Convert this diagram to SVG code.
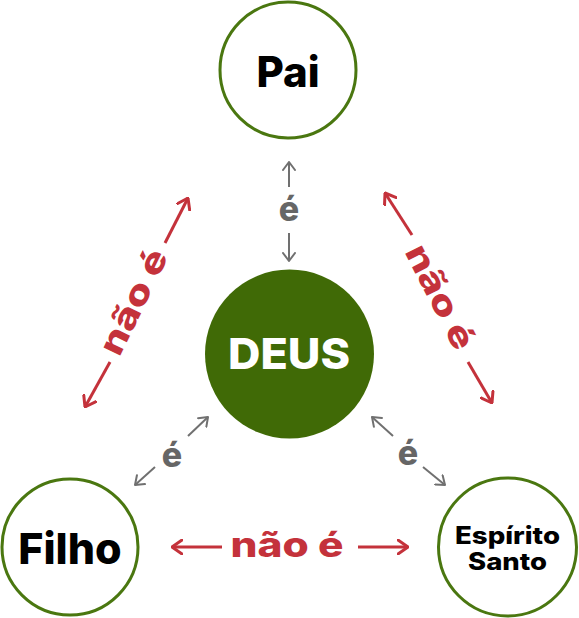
<svg xmlns="http://www.w3.org/2000/svg" width="579" height="618" viewBox="0 0 579 618">
<defs>
<style>
.ring{fill:#fff;stroke:#4a7710;stroke-width:3}
.lbl{font-family:Inter,"Open Sans","Liberation Sans",sans-serif;font-weight:800;text-anchor:middle}
.ne{fill:#c4323b;font-size:34px}
.e{fill:#666;font-size:34px}
.ra{stroke:#c4323b;stroke-width:3;fill:none;marker-end:url(#rh)}
.ga{stroke:#707070;stroke-width:2;fill:none;marker-end:url(#gh)}
</style>
<marker id="rh" markerUnits="userSpaceOnUse" viewBox="0 0 12 16" refX="11" refY="8" markerWidth="12" markerHeight="16" orient="auto">
<path d="M1,1 L11,8 L1,15" fill="none" stroke="#c4323b" stroke-width="3" stroke-linecap="round" stroke-linejoin="round"/>
</marker>
<marker id="gh" markerUnits="userSpaceOnUse" viewBox="0 0 10 14" refX="9" refY="7" markerWidth="10" markerHeight="14" orient="auto">
<path d="M1,1 L9,7 L1,13" fill="none" stroke="#707070" stroke-width="2" stroke-linecap="round" stroke-linejoin="round"/>
</marker>
</defs>
<rect width="579" height="618" fill="#fff"/>
<g id="connectors">
<line class="ga" x1="289" y1="187" x2="289" y2="162"/>
<line class="ga" x1="289" y1="233" x2="289" y2="261"/>
<line class="ga" x1="155" y1="467" x2="135" y2="485"/>
<line class="ga" x1="188" y1="436" x2="208" y2="417"/>
<line class="ga" x1="393" y1="436" x2="372" y2="417"/>
<line class="ga" x1="423" y1="467" x2="445" y2="485"/>
<text class="lbl e" x="289" y="221">é</text>
<text class="lbl e" x="172" y="467">é</text>
<text class="lbl e" x="408" y="465">é</text>
<line class="ra" x1="165" y1="243" x2="188" y2="198"/>
<line class="ra" x1="110" y1="362" x2="85" y2="407"/>
<line class="ra" x1="412" y1="235" x2="385" y2="193"/>
<line class="ra" x1="468" y1="362" x2="492" y2="403"/>
<line class="ra" x1="222" y1="547" x2="172" y2="547"/>
<line class="ra" x1="358" y1="547" x2="408" y2="547"/>
<text class="lbl ne" transform="translate(136,303) rotate(-64)" x="0" y="9" textLength="113" lengthAdjust="spacingAndGlyphs">não é</text>
<text class="lbl ne" transform="translate(438,298) rotate(63)" x="0" y="9" textLength="113" lengthAdjust="spacingAndGlyphs">não é</text>
<text class="lbl ne" x="287" y="557" textLength="113" lengthAdjust="spacingAndGlyphs">não é</text>
</g>
<g id="pai">
<circle class="ring" cx="288" cy="70" r="68"/>
<text class="lbl" x="288" y="87" font-size="42" fill="#000">Pai</text>
</g>
<g id="deus">
<circle cx="289.5" cy="354" r="84.5" fill="#406a06"/>
<text class="lbl" x="289" y="369" font-size="42" fill="#fff" textLength="122" lengthAdjust="spacingAndGlyphs">DEUS</text>
</g>
<g id="filho">
<circle class="ring" cx="70" cy="547" r="68"/>
<text class="lbl" x="70" y="564" font-size="43" fill="#000">Filho</text>
</g>
<g id="espirito">
<circle class="ring" cx="507.5" cy="547" r="69"/>
<text class="lbl" x="507.5" y="544" font-size="24" fill="#000" textLength="105" lengthAdjust="spacingAndGlyphs">Espírito</text>
<text class="lbl" x="507.5" y="570" font-size="24" fill="#000" textLength="79" lengthAdjust="spacingAndGlyphs">Santo</text>
</g>
</svg>
